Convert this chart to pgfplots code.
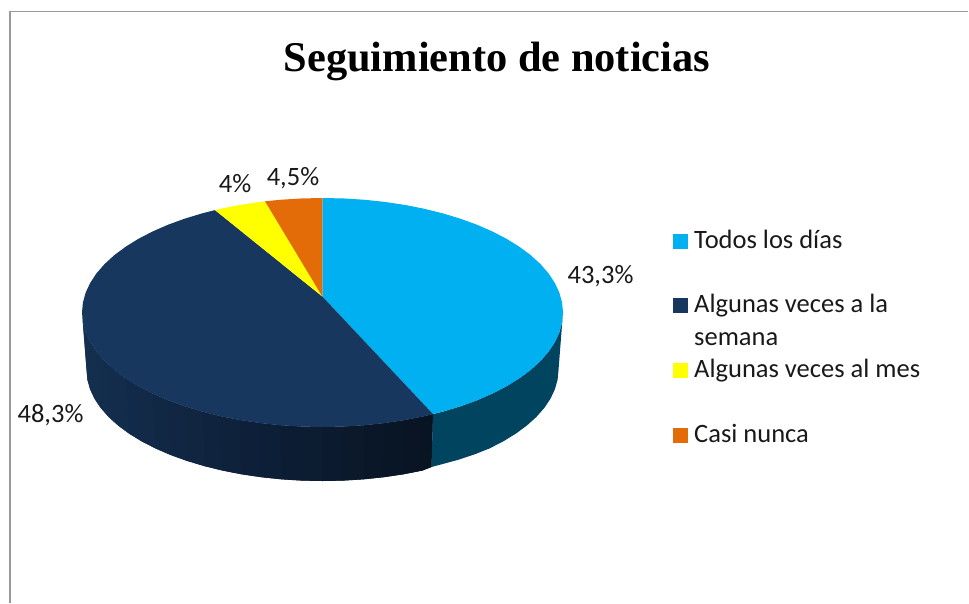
\documentclass[border=0pt]{standalone}
\usepackage{pgfplots}
\pgfplotsset{compat=1.18}
\usepackage{fontspec}
\setmainfont{Carlito}
\newfontfamily\titlefont{Liberation Serif}
\definecolor{cBlue}{RGB}{0,176,240}
\definecolor{cNavy}{RGB}{23,55,94}
\definecolor{cYellow}{RGB}{255,255,0}
\definecolor{cOrange}{RGB}{227,108,9}
\definecolor{cBlueSide}{RGB}{0,68,96}
\definecolor{cFrame}{RGB}{153,153,153}
\tikzset{
  lbl/.style={font=\fontsize{26.5}{26.5}\selectfont, text=black!90, anchor=base, inner sep=0pt},
  leg/.style={font=\fontsize{26.5}{26.5}\selectfont, text=black!90, anchor=base west, inner sep=0pt},
}
\newcommand{\sq}[4]{\addplot[fill={rgb,255:red,#1;green,#2;blue,#3}, draw=none, forget plot] coordinates {#4} --cycle;}
\begin{document}
\begin{tikzpicture}
\path[use as bounding box] (0,0) rectangle (969pt,603pt);
\begin{axis}[
  at={(0,0)}, anchor=south west,
  scale only axis, width=969pt, height=603pt,
  xmin=0, xmax=969, ymin=0, ymax=603, y dir=reverse,
  hide axis, clip=true,
]
% frame
\addplot[cFrame, line width=2.2pt, forget plot] coordinates {(10,603) (10,11)};
\addplot[cFrame, line width=1.6pt, forget plot] coordinates {(9,11.6) (968,11.6)};

% side of the navy slice: each band runs on under the next one
\sq{20}{47}{80}{(82,312.5) (82.92,322.48) (85.65,332.38) (90.09,389.27) (87.4,379.67) (86.5,370)}
\sq{20}{47}{80}{(82.92,322.48) (85.65,332.38) (90.19,342.13) (94.54,398.73) (90.09,389.27) (87.4,379.67)}
\sq{20}{46}{79}{(85.65,332.38) (90.19,342.13) (96.5,351.66) (100.73,407.96) (94.54,398.73) (90.09,389.27)}
\sq{20}{46}{78}{(90.19,342.13) (96.5,351.66) (104.53,360.89) (108.61,416.91) (100.73,407.96) (94.54,398.73)}
\sq{19}{45}{77}{(96.5,351.66) (104.53,360.89) (114.22,369.75) (118.12,425.5) (108.61,416.91) (100.73,407.96)}
\sq{19}{44}{76}{(104.53,360.89) (114.22,369.75) (125.49,378.17) (129.18,433.67) (118.12,425.5) (108.61,416.91)}
\sq{19}{44}{75}{(114.22,369.75) (125.49,378.17) (138.27,386.1) (141.71,441.35) (129.18,433.67) (118.12,425.5)}
\sq{18}{42}{73}{(125.49,378.17) (138.27,386.1) (152.44,393.46) (155.62,448.49) (141.71,441.35) (129.18,433.67)}
\sq{18}{41}{71}{(138.27,386.1) (152.44,393.46) (167.91,400.21) (170.8,455.03) (155.62,448.49) (141.71,441.35)}
\sq{17}{40}{69}{(152.44,393.46) (167.91,400.21) (184.55,406.29) (187.13,460.93) (170.8,455.03) (155.62,448.49)}
\sq{16}{38}{66}{(167.91,400.21) (184.55,406.29) (202.25,411.66) (204.5,466.13) (187.13,460.93) (170.8,455.03)}
\sq{16}{37}{64}{(184.55,406.29) (202.25,411.66) (220.86,416.27) (222.76,470.6) (204.5,466.13) (187.13,460.93)}
\sq{15}{35}{62}{(202.25,411.66) (220.86,416.27) (240.24,420.1) (241.78,474.31) (222.76,470.6) (204.5,466.13)}
\sq{14}{34}{59}{(220.86,416.27) (240.24,420.1) (260.25,423.1) (261.42,477.22) (241.78,474.31) (222.76,470.6)}
\sq{14}{32}{57}{(240.24,420.1) (260.25,423.1) (280.74,425.26) (281.52,479.31) (261.42,477.22) (241.78,474.31)}
\sq{13}{31}{54}{(260.25,423.1) (280.74,425.26) (301.54,426.56) (301.93,480.58) (281.52,479.31) (261.42,477.22)}
\sq{12}{29}{51}{(280.74,425.26) (301.54,426.56) (322.5,427) (322.5,481) (301.93,480.58) (281.52,479.31)}
\sq{12}{28}{49}{(301.54,426.56) (322.5,427) (343.46,426.56) (343.07,480.58) (322.5,481) (301.93,480.58)}
\sq{11}{26}{46}{(322.5,427) (343.46,426.56) (364.26,425.26) (363.48,479.31) (343.07,480.58) (322.5,481)}
\sq{11}{25}{43}{(343.46,426.56) (364.26,425.26) (384.75,423.1) (383.58,477.22) (363.48,479.31) (343.07,480.58)}
\sq{10}{23}{41}{(364.26,425.26) (384.75,423.1) (404.76,420.1) (403.22,474.31) (383.58,477.22) (363.48,479.31)}
\sq{9}{22}{38}{(384.75,423.1) (404.76,420.1) (424.14,416.27) (422.24,470.6) (403.22,474.31) (383.58,477.22)}
\sq{9}{21}{36}{(404.76,420.1) (424.14,416.27) (433,414.1) (431.5,467) (422.24,470.6) (403.22,474.31)}
\sq{9}{20}{35}{(424.14,416.27) (433,414.1) (431.5,467) (422.24,470.6)}

% side of the blue slice
\addplot[fill=cBlueSide, draw=none, forget plot] coordinates {
(563,312.5) (562.08,322.48) (559.35,332.38) (554.81,342.13) (548.5,351.66)
(540.47,360.89) (530.78,369.75) (519.51,378.17) (506.73,386.1) (492.56,393.46)
(477.09,400.21) (460.45,406.29) (442.75,411.66) (433,414.1)
(431.5,467) (440.5,464.6) (457.87,459.9) (474.2,454.5) (489.38,448.49) (503.29,441.35)
(515.82,433.67) (526.88,425.5) (536.39,416.91) (544.27,407.96) (550.46,398.73)
(554.91,389.27) (557.6,379.67) (558.5,370)
} --cycle;

% top: Todos los dias, 43.3
\addplot[fill=cBlue, draw=none, forget plot] coordinates {
(322.3,296.5) (322.5,198) (343.46,198.44) (364.26,199.74) (384.75,201.9) (404.76,204.9)
(424.14,208.73) (442.75,213.34) (460.45,218.71) (477.09,224.79) (492.56,231.54)
(506.73,238.9) (519.51,246.83) (530.78,255.25) (540.47,264.11) (548.5,273.34)
(554.81,282.87) (559.35,292.62) (562.08,302.52) (563,312.5) (562.08,322.48)
(559.35,332.38) (554.81,342.13) (548.5,351.66) (540.47,360.89) (530.78,369.75)
(519.51,378.17) (506.73,386.1) (492.56,393.46) (477.09,400.21) (460.45,406.29)
(442.75,411.66) (433,414.1)
} --cycle;

% top: Algunas veces a la semana, 48.3
\addplot[fill=cNavy, draw=none, forget plot] coordinates {
(322.3,296.5) (433,414.1) (424.14,416.27) (404.76,420.1) (384.75,423.1) (364.26,425.26)
(343.46,426.56) (322.5,427) (301.54,426.56) (280.74,425.26) (260.25,423.1)
(240.24,420.1) (220.86,416.27) (202.25,411.66) (184.55,406.29) (167.91,400.21)
(152.44,393.46) (138.27,386.1) (125.49,378.17) (114.22,369.75) (104.53,360.89)
(96.5,351.66) (90.19,342.13) (85.65,332.38) (82.92,322.48) (82,312.5) (82.92,302.52)
(85.65,292.62) (90.19,282.87) (96.5,273.34) (104.53,264.11) (114.22,255.25)
(125.49,246.83) (138.27,238.9) (152.44,231.54) (167.91,224.79) (184.55,218.71)
(202.25,213.34) (215,210.1)
} --cycle;

% top: Algunas veces al mes, 4
\addplot[fill=cYellow, draw=none, forget plot] coordinates {
(322.3,296.5) (215,210.1) (220.86,208.73) (240.24,204.9) (260.25,201.9) (265,201.3)
} --cycle;

% top: Casi nunca, 4.5
\addplot[fill=cOrange, draw=none, forget plot] coordinates {
(322.3,296.5) (265,201.3) (280.74,199.74) (301.54,198.44) (322.5,198)
} --cycle;

% legend keys
\addplot[fill=cBlue, draw=none, forget plot] coordinates {(673,234) (688,234) (688,249) (673,249)} --cycle;
\addplot[fill=cNavy, draw=none, forget plot] coordinates {(673,298) (688,298) (688,313) (673,313)} --cycle;
\addplot[fill=cYellow, draw=none, forget plot] coordinates {(673,363) (688,363) (688,378) (673,378)} --cycle;
\addplot[fill=cOrange, draw=none, forget plot] coordinates {(673,428) (688,428) (688,443) (673,443)} --cycle;

\node[leg] at (axis cs:694,248) {Todos los días};
\node[leg] at (axis cs:694,312) {Algunas veces a la};
\node[leg] at (axis cs:694,345) {semana};
\node[leg] at (axis cs:694,377) {Algunas veces al mes};
\node[leg] at (axis cs:694,442) {Casi nunca};

\node[lbl] at (axis cs:600.5,283) {43,3\%};
\node[lbl] at (axis cs:50.5,422) {48,3\%};
\node[lbl] at (axis cs:235,192) {4\%};
\node[lbl] at (axis cs:293,185) {4,5\%};

\node[anchor=base, inner sep=0pt, font=\titlefont\bfseries\fontsize{42.4}{42.4}\selectfont, text=black] at (axis cs:497,71) {Seguimiento de noticias};
\end{axis}
\end{tikzpicture}
\end{document}
